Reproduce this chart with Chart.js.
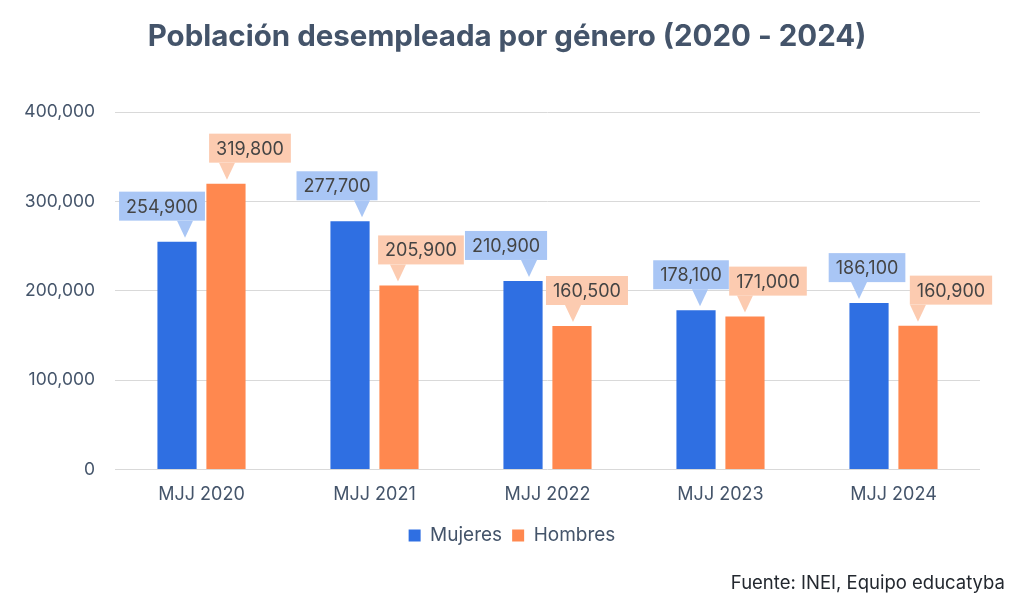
<!DOCTYPE html>
<html>
<head>
<meta charset="utf-8">
<script src="https://cdn.jsdelivr.net/npm/chart.js@4"></script>
<style>
  html, body { margin: 0; padding: 0; background: #fff; }
  #wrap { width: 1024px; height: 608px; }
</style>
</head>
<body>
<div id="wrap"><canvas id="myChart" width="1024" height="608"></canvas></div>
<script>
var categories = ["MJJ 2020", "MJJ 2021", "MJJ 2022", "MJJ 2023", "MJJ 2024"];
var mujeres = [254900, 277700, 210900, 178100, 186100];
var hombres = [319800, 205900, 160500, 171000, 160900];
var yTicks = [0, 100000, 200000, 300000, 400000];
var titleText = "Población desempleada por género (2020 - 2024)";
var sourceText = "Fuente: INEI, Equipo educatyba";

// how far each callout box is pushed sideways from its bar (style only)
var boxShift = [[-15, -13, -17, -5, -2], [24, 22, 15, 23, 33]];
var tipShift = [[8, 12, 6, 4, -10], [1, -1, 1, 0, 0]];
var boxFill = ['#a9c6f5', '#fccbb0'];

var fmt = function (v) { return v.toLocaleString('en-US'); };

var callouts = {
  id: 'callouts',
  afterDatasetsDraw: function (chart) {
    var ctx = chart.ctx;
    ctx.save();
    ctx.font = '18px Inter';
    ctx.textAlign = 'center';
    ctx.textBaseline = 'middle';
    for (var j = 0; j < categories.length; j++) {
      for (var i = 0; i < 2; i++) {
        var bar = chart.getDatasetMeta(i).data[j];
        var val = chart.data.datasets[i].data[j];
        var txt = fmt(val);
        var w = ctx.measureText(txt).width + 14;
        var h = 29;
        var cx = bar.x + boxShift[i][j];
        var bottom = bar.y - 21;
        var tipX = bar.x + tipShift[i][j];
        var tipY = bar.y - 4;
        ctx.fillStyle = boxFill[i];
        ctx.fillRect(cx - w / 2, bottom - h, w, h);
        var bx = Math.min(Math.max(tipX, cx - w / 2 + 8), cx + w / 2 - 8);
        ctx.beginPath();
        ctx.moveTo(bx - 8, bottom);
        ctx.lineTo(bx + 8, bottom);
        ctx.lineTo(tipX, tipY);
        ctx.closePath();
        ctx.fill();
        ctx.fillStyle = '#444';
        ctx.fillText(txt, cx, bottom - h / 2 + 1);
      }
    }
    ctx.restore();
  }
};

var texts = {
  id: 'texts',
  afterDraw: function (chart) {
    var ctx = chart.ctx;
    ctx.save();
    ctx.textBaseline = 'middle';
    ctx.font = 'bold 29.5px Inter';
    ctx.fillStyle = '#44546a';
    ctx.textAlign = 'center';
    ctx.fillText(titleText, 507, 37);
    ctx.font = '18.5px Inter';
    ctx.fillStyle = '#23282f';
    ctx.textAlign = 'right';
    ctx.fillText(sourceText, 1005, 583);
    ctx.restore();
  }
};

var ctx = document.getElementById("myChart");
var myChart = new Chart(ctx, {
    type: 'bar',
    data: {
	labels: categories,
	datasets: [{
	    label: 'Mujeres',
	    data: mujeres,
	    backgroundColor: '#2f6fe2',
	    categoryPercentage: 0.566,
	    barPercentage: 0.8
	}, {
	    label: 'Hombres',
	    data: hombres,
	    backgroundColor: '#ff884f',
	    categoryPercentage: 0.566,
	    barPercentage: 0.8
	}]
    },
    options: {
	responsive: false,
	animation: false,
	layout: { padding: { top: 112, left: 0, right: 0, bottom: 53 } },
	plugins: {
	    title: { display: false },
	    legend: {
		position: 'bottom',
		labels: {
		    font: { family: 'Inter', size: 19 },
		    color: '#44546a',
		    boxWidth: 12,
		    boxHeight: 12,
		    padding: 10
		}
	    },
	    tooltip: { enabled: false }
	},
	scales: {
	    x: {
		grid: { display: false },
		border: { display: false },
		afterFit: function (scale) { scale.height += 5; },
		ticks: { font: { family: 'Inter', size: 18 }, color: '#44546a', padding: 6 }
	    },
	    y: {
		min: 0,
		max: 400000,
		afterFit: function (scale) { scale.width = 115; },
		afterBuildTicks: function (scale) { scale.ticks = yTicks.map(function (v) { return { value: v }; }); },
		grid: { color: '#d9d9d9', drawTicks: false },
		border: { display: false },
		ticks: {
		    font: { family: 'Inter', size: 17.5 },
		    color: '#44546a',
		    padding: 20,
		    callback: function (v) { return fmt(v); }
		}
	    },
	    // empty right margin so the legend centres on the page
	    yRight: {
		position: 'right',
		min: 0,
		max: 400000,
		afterFit: function (scale) { scale.width = 44; },
		grid: { display: false },
		border: { display: false },
		ticks: { display: false }
	    }
	}
    },
    plugins: [callouts, texts]
});
</script>
</body>
</html>
